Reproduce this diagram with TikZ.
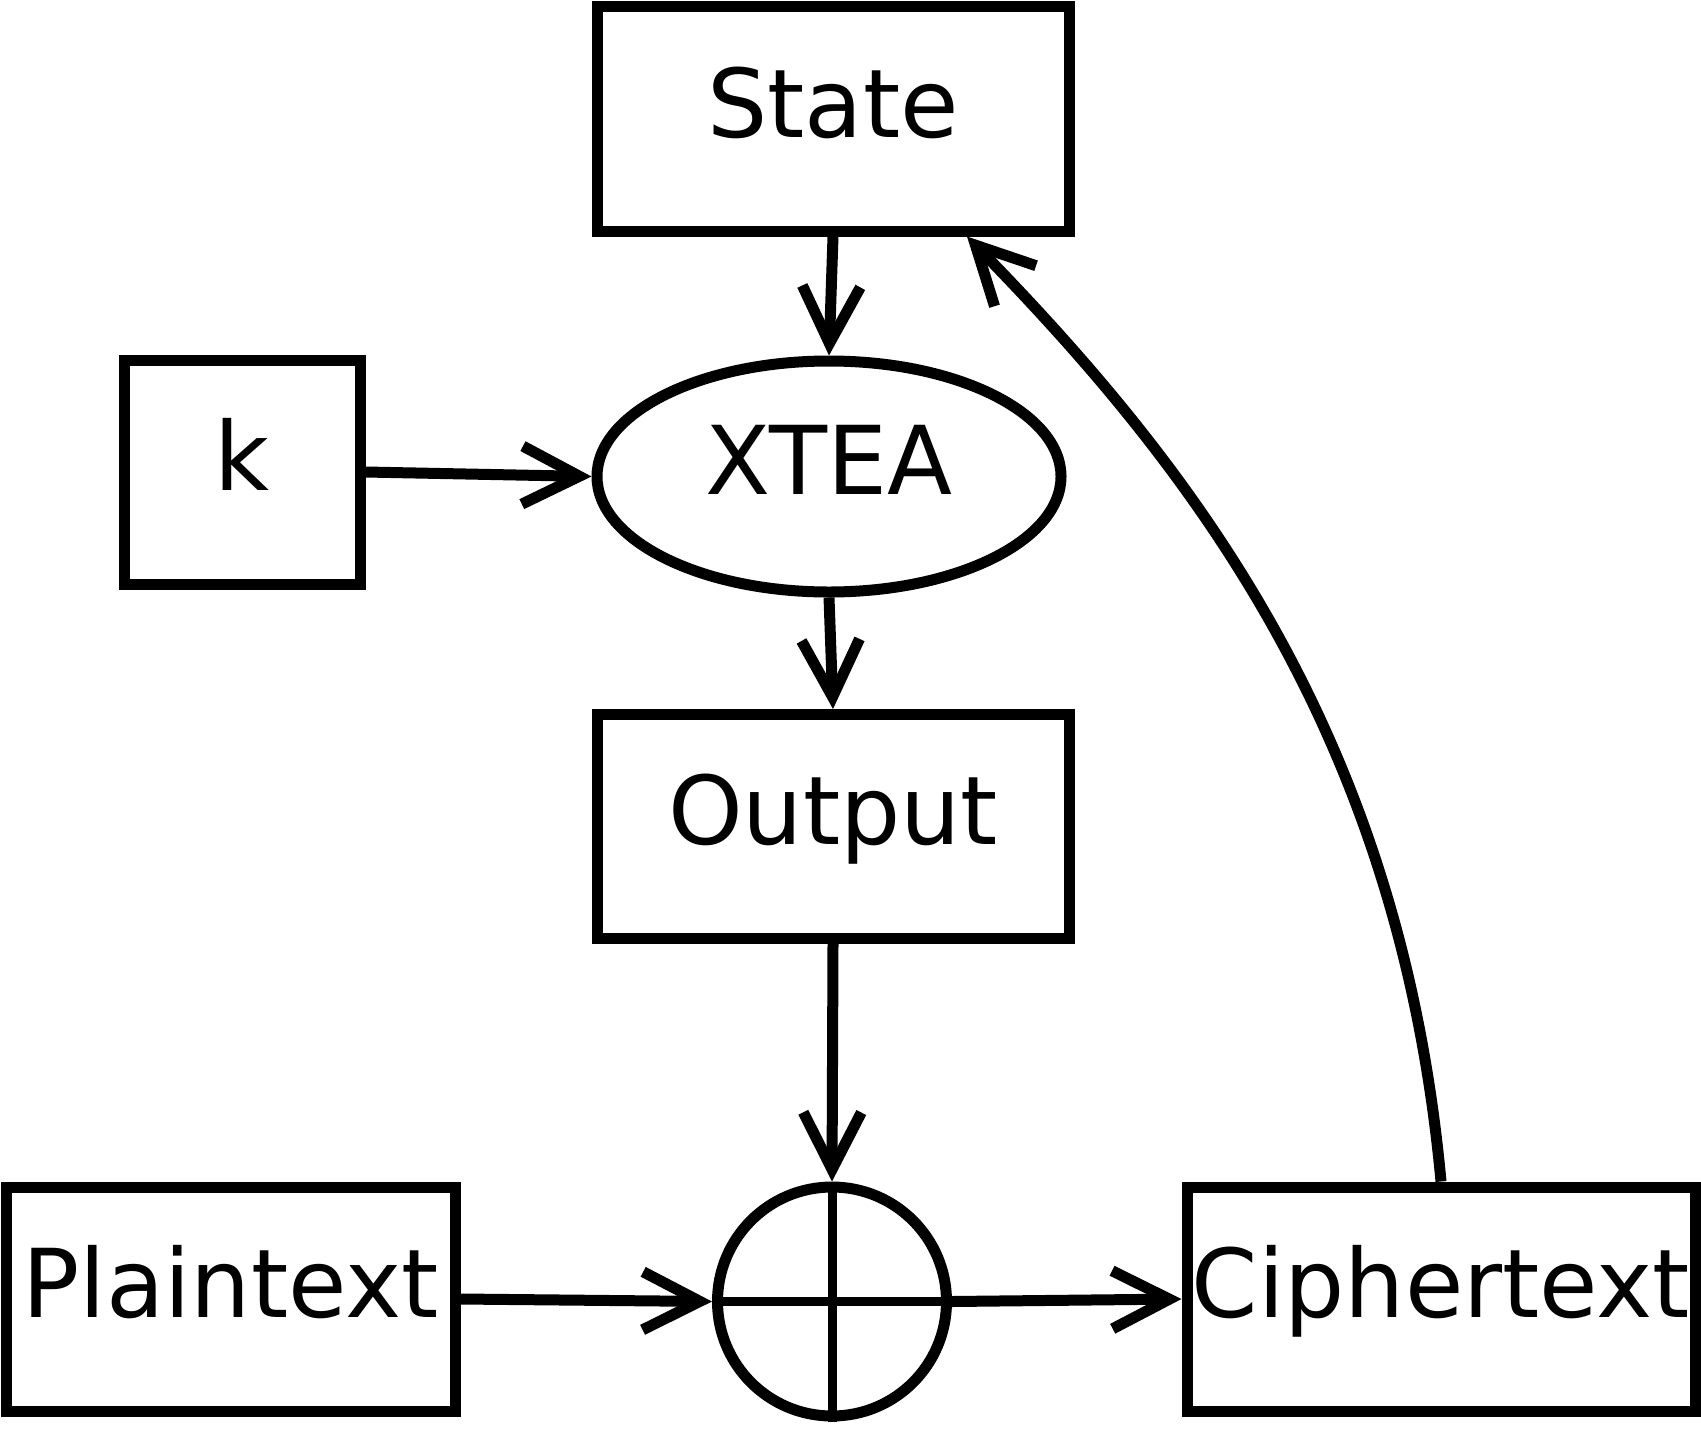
\documentclass[tikz,border=0pt]{standalone}
\usepackage{fontspec}
\setmainfont{DejaVu Sans}
\usetikzlibrary{arrows.meta,shapes.geometric,calc}
\begin{document}
\begin{tikzpicture}[x=0.5pt,y=-0.5pt,
  every node/.style={font=\fontsize{47.5pt}{57pt}\selectfont, text height=36pt, text depth=18pt, inner sep=0pt, line width=5.5pt},
  boxnode/.style={draw, rectangle, minimum height=112pt},
  conn/.style={line width=5.5pt, -{Straight Barb[length=28.5pt,width=29pt]}},
]
\useasboundingbox (0,0) rectangle (1701,1429);
\node[boxnode, minimum width=236pt] (state) at (833,119) {State};
\node[draw, ellipse, minimum width=232pt, minimum height=115.5pt] (xtea) at (829,476.5) {XTEA};
\node[boxnode, minimum width=118pt] (k) at (242,472) {k};
\node[boxnode, minimum width=236pt] (out) at (833,826.5) {Output};
\node[boxnode, minimum width=224.5pt] (plain) at (230.5,1299) {Plaintext};
\node[draw, circle, minimum size=114.5pt] (xor) at (832,1301.5) {};
\node[boxnode, minimum width=254pt] (cipher) at (1441,1299) {Ciphertext};
\draw[line width=4.5pt] (xor.north) -- (xor.south) (xor.west) -- (xor.east);
\coordinate (stin) at ($(state.south)+(134,0)$);
\draw[conn] (state.south) -- (xtea.north);
\draw[conn] (k.east) -- (xtea.west);
\draw[conn] (xtea.south) -- (out.north);
\draw[conn] (out.south) -- (xor.north);
\draw[conn] (plain.east) -- (xor.west);
\draw[conn] (xor.east) -- (cipher.west);
\draw[conn] (cipher.north) .. controls (1400,737) and (1195,470) .. (stin);
\end{tikzpicture}
\end{document}
